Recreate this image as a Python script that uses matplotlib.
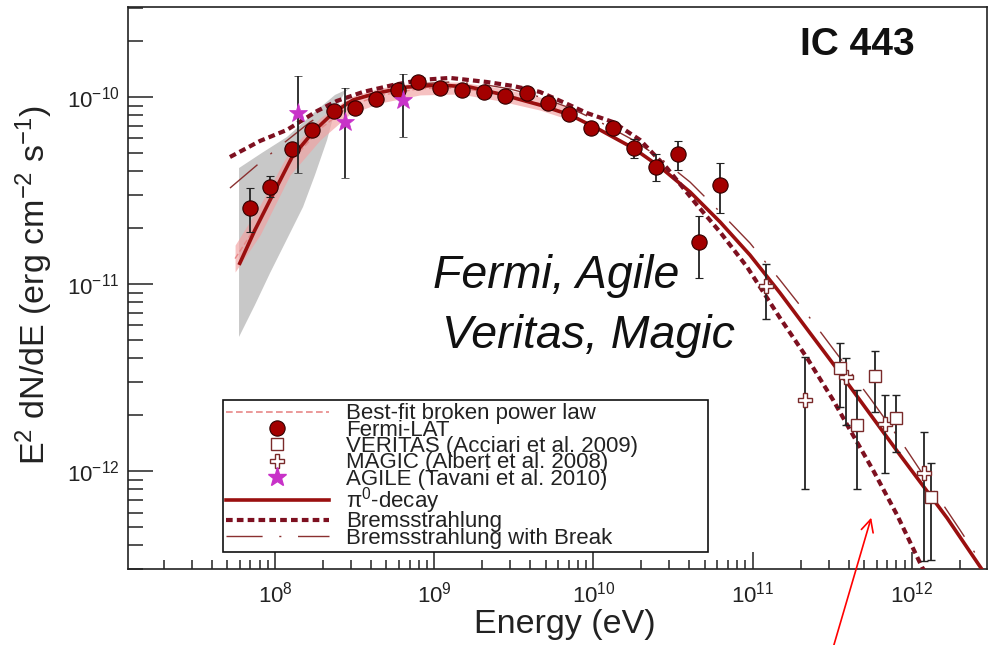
import numpy as np
import matplotlib
matplotlib.use('Agg')
import matplotlib.pyplot as plt
from matplotlib.lines import Line2D
from matplotlib.ticker import FixedLocator, LogLocator, NullFormatter

plt.rcParams['font.family'] = ['Liberation Sans', 'DejaVu Sans']
plt.rcParams['mathtext.fontset'] = 'custom'
plt.rcParams['mathtext.rm'] = 'Liberation Sans'
plt.rcParams['mathtext.it'] = 'Liberation Sans:italic'
plt.rcParams['mathtext.bf'] = 'Liberation Sans:bold'
plt.rcParams['mathtext.default'] = 'regular'
plt.rcParams['axes.unicode_minus'] = False

# ---------------- data ----------------
fermi_E = np.array([6.96e7, 9.3e7, 1.28e8, 1.71e8, 2.35e8, 3.19e8, 4.32e8, 5.94e8, 7.94e8,
                    1.09e9, 1.50e9, 2.04e9, 2.80e9, 3.85e9, 5.15e9, 6.98e9, 9.6e9, 1.32e10,
                    1.79e10, 2.46e10, 3.39e10, 4.59e10, 6.22e10])
fermi_F = np.array([2.55e-11, 3.30e-11, 5.27e-11, 6.66e-11, 8.42e-11, 8.73e-11, 9.76e-11, 1.09e-10,
                    1.20e-10, 1.12e-10, 1.09e-10, 1.06e-10, 1.01e-10, 1.05e-10, 9.29e-11, 8.11e-11,
                    6.83e-11, 6.83e-11, 5.34e-11, 4.22e-11, 4.96e-11, 1.68e-11, 3.38e-11])
fermi_hi = np.array([3.26e-11, 3.78e-11, 5.5e-11, 6.9e-11, 8.7e-11, 9.0e-11, 1.00e-10, 1.12e-10,
                     1.23e-10, 1.15e-10, 1.12e-10, 1.09e-10, 1.04e-10, 1.08e-10, 9.6e-11, 8.4e-11,
                     7.1e-11, 7.2e-11, 5.96e-11, 4.96e-11, 5.82e-11, 2.31e-11, 4.44e-11])
fermi_lo = np.array([1.90e-11, 2.92e-11, 5.0e-11, 6.4e-11, 8.1e-11, 8.4e-11, 9.4e-11, 1.06e-10,
                     1.17e-10, 1.09e-10, 1.06e-10, 1.03e-10, 0.98e-10, 1.02e-10, 9.0e-11, 7.8e-11,
                     6.5e-11, 6.4e-11, 4.72e-11, 3.56e-11, 4.07e-11, 1.08e-11, 2.40e-11])

agile_E = np.array([1.40e8, 2.76e8, 6.40e8])
agile_F = np.array([8.21e-11, 7.35e-11, 9.64e-11])
agile_hi = np.array([1.29e-10, 1.12e-10, 1.33e-10])
agile_lo = np.array([3.92e-11, 3.69e-11, 6.11e-11])

magic_E = np.array([1.21e11, 2.13e11, 3.86e11, 6.80e11, 1.20e12])
magic_F = np.array([9.76e-12, 2.40e-12, 3.18e-12, 1.78e-12, 9.75e-13])
magic_hi = np.array([1.28e-11, 4.07e-12, 4.02e-12, 2.55e-12, 1.62e-12])
magic_lo = np.array([6.50e-12, 8.0e-13, 1.76e-12, 9.75e-13, 3.3e-13])

veritas_E = np.array([3.54e11, 4.53e11, 5.89e11, 7.98e11, 1.31e12])
veritas_F = np.array([3.56e-12, 1.76e-12, 3.22e-12, 1.92e-12, 7.26e-13])
veritas_hi = np.array([4.83e-12, 2.71e-12, 4.38e-12, 2.55e-12, 1.10e-12])
veritas_lo = np.array([2.20e-12, 8.0e-13, 2.07e-12, 1.26e-12, 3.34e-13])

# model curves, log10 values
pi0_logE = np.array([7.774, 7.874, 7.969, 8.107, 8.239, 8.364, 8.490, 8.641, 8.829, 9.036, 9.225,
                     9.413, 9.664, 9.853, 10.041, 10.249, 10.418, 10.607, 10.795, 10.983, 11.172,
                     11.360, 11.549, 11.737, 11.926, 12.221, 12.460])
pi0_logF = np.array([-10.898, -10.711, -10.551, -10.321, -10.187, -10.086, -10.016, -9.979, -9.947,
                     -9.936, -9.947, -9.984, -10.043, -10.096, -10.176, -10.273, -10.374, -10.508,
                     -10.668, -10.845, -11.048, -11.262, -11.476, -11.695, -11.915, -12.251, -12.551])

brems_logE = np.array([7.717, 7.906, 8.075, 8.264, 8.389, 8.553, 8.741, 8.911, 9.099, 9.332, 9.495,
                       9.664, 9.834, 9.960, 10.123, 10.293, 10.462, 10.651, 10.795, 10.965, 11.172,
                       11.342, 11.505, 11.612, 11.756, 11.907, 12.064, 12.114])
brems_logF = np.array([-10.321, -10.235, -10.176, -10.075, -10.021, -9.973, -9.936, -9.909, -9.898,
                       -9.920, -9.941, -9.973, -10.037, -10.086, -10.134, -10.230, -10.380, -10.578,
                       -10.722, -10.909, -11.182, -11.396, -11.620, -11.781, -11.995, -12.235,
                       -12.514, -12.583])

brk_logE = np.array([7.717, 7.887, 8.063, 8.220, 8.377, 8.534, 8.722, 8.911, 9.099, 9.288, 9.476,
                     9.664, 9.853, 10.041, 10.249, 10.418, 10.607, 10.795, 10.983, 11.172, 11.360,
                     11.549, 11.737, 11.926, 12.114, 12.303, 12.397])
brk_logF = np.array([-10.487, -10.364, -10.241, -10.134, -10.053, -10.000, -9.957, -9.930, -9.920,
                     -9.930, -9.957, -10.000, -10.059, -10.134, -10.230, -10.326, -10.455, -10.615,
                     -10.781, -10.979, -11.182, -11.396, -11.610, -11.834, -12.075, -12.316, -12.439])

band_logE = np.array([7.749, 7.906, 8.094, 8.283, 8.471, 8.660, 8.911, 9.162, 9.413, 9.664, 9.853])
band_hi_logF = np.array([-10.792, -10.578, -10.283, -10.112, -10.000, -9.952, -9.920, -9.920,
                         -9.952, -10.000, -10.059])
band_lo_logF = np.array([-10.936, -10.738, -10.417, -10.230, -10.091, -10.032, -9.989, -9.984,
                         -10.021, -10.070, -10.123])
bpl_logF = np.array([-10.864, -10.658, -10.350, -10.171, -10.046, -9.992, -9.955, -9.952,
                     -9.987, -10.035, -10.091])

gray_logE = np.array([7.774, 7.918, 8.075, 8.264, 8.377, 8.471, 8.440, 8.377, 8.327, 8.251,
                      8.176, 8.063, 7.969, 7.874, 7.774])
gray_logF = np.array([-10.380, -10.299, -10.214, -10.070, -9.989, -9.952, -9.973, -10.070,
                      -10.230, -10.417, -10.588, -10.781, -10.941, -11.112, -11.283])

x_major_ticks = [1e8, 1e9, 1e10, 1e11, 1e12]
y_major_ticks = [1e-12, 1e-11, 1e-10]

legend_labels = ['Best-fit broken power law', 'Fermi-LAT', 'VERITAS (Acciari et al. 2009)',
                 'MAGIC (Albert et al. 2008)', 'AGILE (Tavani et al. 2010)',
                 r'$\pi^{0}$-decay', 'Bremsstrahlung', 'Bremsstrahlung with Break']

# ---------------- styles ----------------
C_PI0 = '#9a0f0f'
C_BREM = '#7d1020'
C_BRK = '#8a3030'
C_FERMI = '#a30000'
C_OPEN = '#7a2a2a'
C_AGILE = '#c832c8'
C_PINK = '#f2a0a0'
C_TXT = '#222222'

fig = plt.figure(figsize=(9.9, 6.45), dpi=100)
ax = fig.add_axes([0.1293, 0.1178, 0.8677, 0.8713])
ax.set_xscale('log')
ax.set_yscale('log')
ax.set_xlim(10**7.0766, 10**12.472)
ax.set_ylim(10**-12.524, 10**-9.519)

ax.fill(10**gray_logE, 10**gray_logF, color='#c8c8c8', lw=0, zorder=1)
ax.fill_between(10**band_logE, 10**band_lo_logF, 10**band_hi_logF, color=C_PINK, alpha=0.65,
                lw=0, zorder=2)
ax.plot(10**band_logE, 10**bpl_logF, color='#e88888', lw=1.0, ls=(0, (4, 2)), zorder=2.5)

ax.plot(10**brk_logE, 10**brk_logF, color=C_BRK, lw=1.0, dashes=(26, 12, 1.5, 12), zorder=3)
ax.plot(10**pi0_logE, 10**pi0_logF, color=C_PI0, lw=2.6, zorder=4, solid_capstyle='butt')
ax.plot(10**brems_logE, 10**brems_logF, color=C_BREM, lw=3.0, dashes=(1.6, 1.0),
        dash_capstyle='butt', zorder=4)

eb_kw = dict(ecolor='#222222', elinewidth=1.3, capsize=3, capthick=1.3, ls='none')
ax.errorbar(fermi_E, fermi_F, yerr=[fermi_F - fermi_lo, fermi_hi - fermi_F], fmt='o',
            ms=11, mfc=C_FERMI, mec='#300000', mew=0.8, zorder=6, **eb_kw)
ax.errorbar(agile_E, agile_F, yerr=[agile_F - agile_lo, agile_hi - agile_F], fmt='*',
            ms=14, mfc=C_AGILE, mec=C_AGILE, mew=0.5, zorder=7, **eb_kw)
ax.errorbar(magic_E, magic_F, yerr=[magic_F - magic_lo, magic_hi - magic_F], fmt='P',
            ms=10, mfc='white', mec=C_OPEN, mew=1.0, zorder=7, **eb_kw)
ax.errorbar(veritas_E, veritas_F, yerr=[veritas_F - veritas_lo, veritas_hi - veritas_F], fmt='s',
            ms=9, mfc='white', mec=C_OPEN, mew=1.0, zorder=7, **eb_kw)

# ticks
ax.xaxis.set_major_locator(FixedLocator(x_major_ticks))
ax.xaxis.set_minor_locator(LogLocator(base=10, subs=np.arange(2, 10), numticks=20))
ax.yaxis.set_major_locator(FixedLocator(y_major_ticks))
ax.yaxis.set_minor_locator(LogLocator(base=10, subs=np.arange(2, 10), numticks=20))
ax.xaxis.set_minor_formatter(NullFormatter())
ax.yaxis.set_minor_formatter(NullFormatter())
ax.tick_params(axis='both', which='both', direction='in', top=False, right=False,
               width=1.1, color=C_TXT, labelsize=16, labelcolor=C_TXT)
ax.tick_params(axis='x', which='major', length=12, pad=9)
ax.tick_params(axis='x', which='minor', length=6.5)
ax.tick_params(axis='y', which='major', length=18, pad=6)
ax.tick_params(axis='y', which='minor', length=11)
for s in ax.spines.values():
    s.set_linewidth(1.2)
    s.set_color(C_TXT)

fig.text(565 / 990, 1 - 624 / 645, 'Energy (eV)', ha='center', va='center', fontsize=24.5,
         color=C_TXT)
fig.text(34 / 990, 1 - 285 / 645, r'E$^{2}$ dN/dE (erg cm$^{-2}$ s$^{-1}$)', rotation=90,
         ha='center', va='center', fontsize=24.5, color=C_TXT)

ax.text(0.782, 0.915, 'IC 443', transform=ax.transAxes, fontsize=28, fontweight='bold',
        ha='left', va='baseline', color='#111111')
ax.text(0.355, 0.500, 'Fermi, Agile', transform=ax.transAxes, fontsize=33.5, style='italic',
        ha='left', va='baseline', color='#111111')
ax.text(0.366, 0.393, 'Veritas, Magic', transform=ax.transAxes, fontsize=33.5, style='italic',
        ha='left', va='baseline', color='#111111')

# legend
handles = [
    Line2D([], [], color='#e88888', lw=1.2, ls=(0, (4, 2))),
    Line2D([], [], ls='none', marker='o', ms=11, mfc=C_FERMI, mec='#300000', mew=0.8),
    Line2D([], [], ls='none', marker='s', ms=9, mfc='white', mec=C_OPEN, mew=1.0),
    Line2D([], [], ls='none', marker='P', ms=10, mfc='white', mec=C_OPEN, mew=1.0),
    Line2D([], [], ls='none', marker='*', ms=14, mfc=C_AGILE, mec=C_AGILE),
    Line2D([], [], color=C_PI0, lw=2.6),
    Line2D([], [], color=C_BREM, lw=3.0, dashes=(1.6, 1.0), dash_capstyle='butt'),
    Line2D([], [], color=C_BRK, lw=1.0, dashes=(26, 12, 1.5, 12)),
]
leg = ax.legend(handles, legend_labels, loc='lower left',
                bbox_to_anchor=(0.1106, 0.0302, 0.5646, 0.276), mode='expand',
                fontsize=16, labelspacing=-0.21, handlelength=4.6, handletextpad=0.8,
                borderpad=0.15, borderaxespad=0, fancybox=False, framealpha=1,
                edgecolor='#111111', frameon=True)
leg.get_frame().set_linewidth(1.2)
for t in leg.get_texts():
    t.set_color(C_TXT)
leg.set_zorder(10)

# red arrow
ax.annotate('', xy=(872 / 990, 1 - 515 / 645), xycoords='figure fraction',
            xytext=(832 / 990, -0.01), textcoords='figure fraction',
            arrowprops=dict(arrowstyle='->', color='red', lw=1.2, mutation_scale=22),
            annotation_clip=False)

fig.savefig('out.png', dpi=100)
